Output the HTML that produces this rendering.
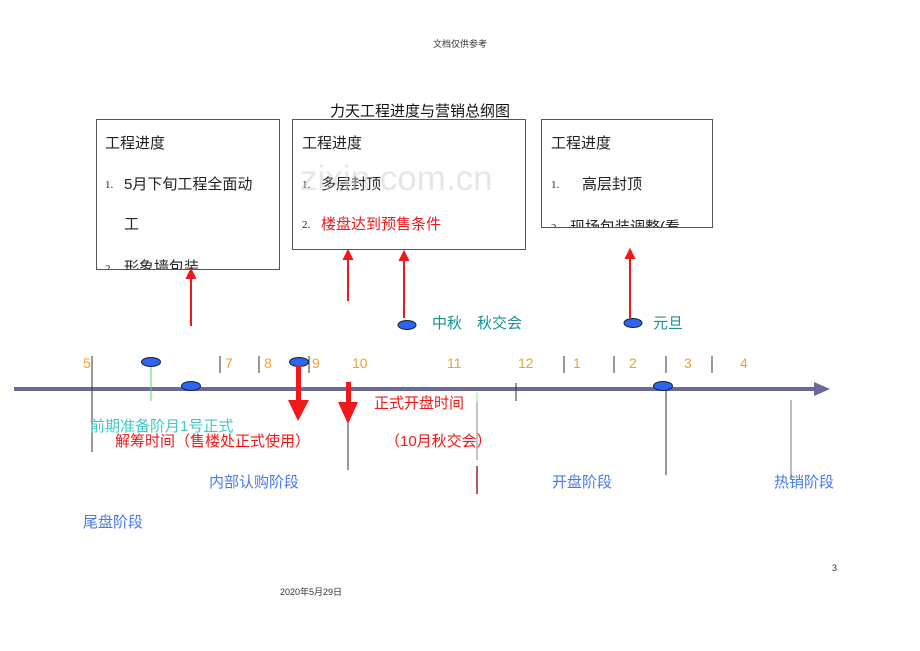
<!DOCTYPE html>
<html><head><meta charset="utf-8"><style>
body{margin:0;width:920px;height:651px;background:#fff;position:relative;overflow:hidden;font-family:"Liberation Sans","Noto Sans CJK SC",sans-serif}
.t{position:absolute;white-space:nowrap;line-height:1}
.box{position:absolute;border:1px solid #555;background:#fff;overflow:hidden}
.box .t{font-size:15px;color:#222}
.n{font-family:"Liberation Serif",serif;font-size:11px!important}
.o{color:#f0a030;font-size:14px}
.b{color:#4a78f0;font-size:15px}
.r{color:#f01818;font-size:15px}
</style></head><body>
<div class="t" style="left:433px;top:40px;font-size:9px;color:#333">文档仅供参考</div>
<div class="t" style="left:330px;top:104px;font-size:15px;color:#111">力天工程进度与营销总纲图</div>

<div class="box" style="left:96px;top:119px;width:182px;height:149px">
<div class="t" style="left:8px;top:16px">工程进度</div>
<div class="t n" style="left:8px;top:60px">1.</div>
<div class="t" style="left:27px;top:57px">5月下旬工程全面动</div>
<div class="t" style="left:27px;top:97px">工</div>
<div class="t n" style="left:8px;top:144px">2.</div>
<div class="t" style="left:27px;top:140px">形象墙包装</div>
</div>
<div class="box" style="left:292px;top:119px;width:232px;height:129px">
<div class="t" style="left:9px;top:16px">工程进度</div>
<div class="t n" style="left:9px;top:60px">1.</div>
<div class="t" style="left:28px;top:57px">多层封顶</div>
<div class="t n" style="left:9px;top:100px">2.</div>
<div class="t" style="left:28px;top:97px;color:#f01818">楼盘达到预售条件</div>
</div>
<div class="box" style="left:541px;top:119px;width:170px;height:107px">
<div class="t" style="left:9px;top:16px">工程进度</div>
<div class="t n" style="left:9px;top:60px">1.</div>
<div class="t" style="left:40px;top:57px">高层封顶</div>
<div class="t n" style="left:9px;top:103px">2.</div>
<div class="t" style="left:28px;top:100px">现场包装调整(看</div>
</div>

<div class="t" style="left:300px;top:161px;font-size:35px;color:rgba(200,200,200,0.45)">zixin.com.cn</div>

<svg width="920" height="651" style="position:absolute;left:0;top:0">
<g stroke="#f01818" stroke-width="2" fill="#f01818">
<line x1="191" y1="326" x2="191" y2="276"/><polygon points="187,278 195,278 191,270"/>
<line x1="348" y1="301" x2="348" y2="257"/><polygon points="344,259 352,259 348,251"/>
<line x1="404" y1="318" x2="404" y2="258"/><polygon points="400,260 408,260 404,252"/>
<line x1="630" y1="318" x2="630" y2="256"/><polygon points="626,258 634,258 630,250"/>
</g>
<line x1="14" y1="389" x2="816" y2="389" stroke="#6a6a9a" stroke-width="4"/>
<polygon points="814,382 830,389 814,396" fill="#6a6a9a"/>
<g stroke="#333" stroke-width="1">
<line x1="92" y1="356" x2="92" y2="452"/>
<line x1="220" y1="356" x2="220" y2="373"/>
<line x1="259" y1="356" x2="259" y2="373"/>
<line x1="309" y1="356" x2="309" y2="373"/>
<line x1="564" y1="356" x2="564" y2="373"/>
<line x1="614" y1="356" x2="614" y2="373"/>
<line x1="666" y1="356" x2="666" y2="373"/>
<line x1="712" y1="356" x2="712" y2="373"/>
<line x1="516" y1="383" x2="516" y2="401"/>
<line x1="348" y1="420" x2="348" y2="470"/>
<line x1="666" y1="390" x2="666" y2="475"/>
<line x1="791" y1="400" x2="791" y2="480" stroke="#777"/>
<line x1="477" y1="392" x2="477" y2="460" stroke="#888"/>
</g>
<line x1="477" y1="392" x2="477" y2="402" stroke="#7f7" stroke-width="1"/>
<line x1="477" y1="466" x2="477" y2="494" stroke="#a02020" stroke-width="1.5"/>
<line x1="151" y1="366" x2="151" y2="401" stroke="#5d5" stroke-width="1"/>
<g fill="#2f64f0" stroke="#123" stroke-width="1">
<ellipse cx="407" cy="325" rx="9" ry="4.5"/>
<ellipse cx="633" cy="323" rx="9" ry="4.5"/>
<ellipse cx="151" cy="362" rx="9.5" ry="4.5"/>
<ellipse cx="191" cy="386" rx="9.5" ry="4.5"/>
<ellipse cx="299" cy="362" rx="9.5" ry="4.5"/>
<ellipse cx="663" cy="386" rx="9.5" ry="4.5"/>
</g>
<g fill="#f01818">
<rect x="296" y="366" width="5" height="36"/><polygon points="288,400 309,400 298,421"/>
<rect x="346" y="382" width="5" height="22"/><polygon points="338,402 358,402 348,424"/>
</g>
</svg>

<div class="t o" style="left:83px;top:356px">5</div>
<div class="t o" style="left:225px;top:356px">7</div>
<div class="t o" style="left:264px;top:356px">8</div>
<div class="t o" style="left:312px;top:356px">9</div>
<div class="t o" style="left:352px;top:356px">10</div>
<div class="t o" style="left:447px;top:356px">11</div>
<div class="t o" style="left:518px;top:356px">12</div>
<div class="t o" style="left:573px;top:356px">1</div>
<div class="t o" style="left:629px;top:356px">2</div>
<div class="t o" style="left:684px;top:356px">3</div>
<div class="t o" style="left:740px;top:356px">4</div>

<div class="t" style="left:432px;top:316px;font-size:15px;color:#1a9090">中秋　秋交会</div>
<div class="t" style="left:653px;top:316px;font-size:15px;color:#1a9090">元旦</div>
<div class="t" style="left:90px;top:419px;font-size:15px;color:#40c8c8">前期准备阶月1号正式</div>
<div class="t r" style="left:115px;top:434px">解筹时间（售楼处正式使用）</div>
<div class="t r" style="left:374px;top:396px">正式开盘时间</div>
<div class="t r" style="left:385px;top:434px">（10月秋交会）</div>
<div class="t b" style="left:209px;top:475px">内部认购阶段</div>
<div class="t b" style="left:552px;top:475px">开盘阶段</div>
<div class="t b" style="left:774px;top:475px">热销阶段</div>
<div class="t b" style="left:83px;top:515px">尾盘阶段</div>
<div class="t" style="left:832px;top:564px;font-size:9px;color:#333">3</div>
<div class="t" style="left:280px;top:588px;font-size:9px;color:#333">2020年5月29日</div>
</body></html>
